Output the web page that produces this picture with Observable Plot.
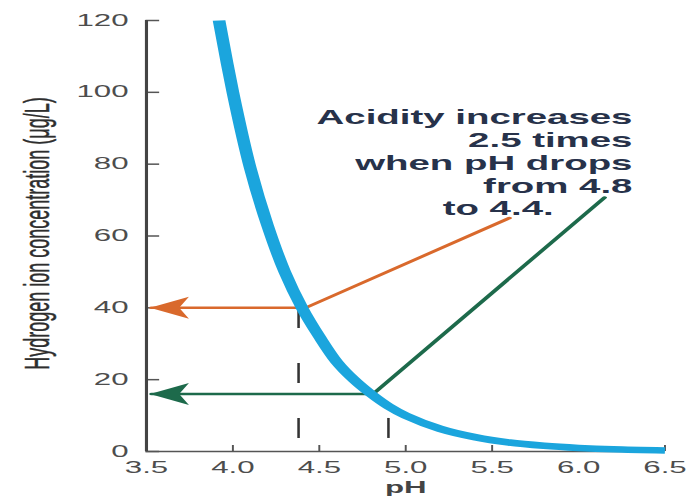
<!DOCTYPE html>
<html><head><meta charset="utf-8">
<script src="https://cdn.jsdelivr.net/npm/d3@7"></script>
<script src="https://cdn.jsdelivr.net/npm/@observablehq/plot@0.6"></script>
<style>html,body{margin:0;padding:0;background:#fff;overflow:hidden}#chart svg{display:block}</style>
</head><body><div id="chart"></div>
<script>
// ---- data ----
const pH   = [3.92, 4.0, 4.1, 4.2, 4.3, 4.4, 4.5, 4.6, 4.7, 4.8, 4.9, 5.0, 5.2, 5.4, 5.6, 5.8, 6.0, 6.2, 6.5];
const conc = [120, 100, 79, 63, 50, 40, 32, 25, 20, 16, 12.6, 10, 6.3, 4.0, 2.5, 1.6, 1.0, 0.6, 0.3];
const xTicks = [3.5, 4.0, 4.5, 5.0, 5.5, 6.0, 6.5];
const yTicks = [0, 20, 40, 60, 80, 100, 120];
const noteLines = ["Acidity increases", "2.5 times", "when pH drops", "from 4.8"];
const noteLast = "to 4.4.";
const orangePH = [5.6, 4.42, 3.53];
const orangeC  = [65, 40, 40];
const greenPH  = [6.15, 4.81, 3.53];
const greenC   = [70.7, 16, 16];
const dropPH   = [4.38, 4.9];
const dropTop  = [39.8, 9.2];
const dropBot  = [3.5, 3.5];
const yLabel = "Hydrogen ion concentration (μg/L)";
const xLabel = "pH";

// ---- layout ----
const f = 1.95, H = 496, W = 689 / f;
const curveRows = pH.map((x, i) => ({pH: x, c: conc[i]}));
const orangeRows = orangePH.map((x, i) => ({pH: x, c: orangeC[i]}));
const greenRows = greenPH.map((x, i) => ({pH: x, c: greenC[i]}));
const dropRows = dropPH.map((x, i) => ({pH: x, top: dropTop[i], bot: dropBot[i]}));
const heads = [
  {pH: orangePH[2] - 0.01, c: orangeC[2], col: "#d9692c"},
  {pH: greenPH[2] - 0.01, c: greenC[2], col: "#1d6a4b"}
];
const arrowHead = {
  draw(ctx, size) {
    const k = Math.sqrt(size / Math.PI) / 10;
    ctx.moveTo(0, 0);
    ctx.lineTo(20 * k, -11 * k);
    ctx.lineTo(15 * k, 0);
    ctx.lineTo(20 * k, 11 * k);
    ctx.closePath();
  }
};

const plot = Plot.plot({
  width: W, height: H,
  marginLeft: 145.5 / f, marginRight: 25 / f, marginTop: 20, marginBottom: 45,
  x: {domain: [3.5, 6.5]},
  y: {domain: [0, 120]},
  style: {fontFamily: "'Liberation Sans', Arial, sans-serif", fontSize: "16px", color: "#4d4d4d", background: "#fff"},
  marks: [
    Plot.axisX(xTicks, {tickSize: -6, tickPadding: 16.5, tickFormat: d3.format(".1f"), stroke: "#555", strokeWidth: 1, label: null}),
    Plot.axisY(yTicks, {tickSize: -7, tickPadding: 16.2, stroke: "#555", strokeWidth: 1.5, label: null}),
    Plot.ruleY([0], {stroke: "#555", strokeWidth: 1.5}),
    Plot.ruleX([3.5], {stroke: "#444", strokeWidth: 1.6}),
    Plot.ruleX(dropRows, {x: "pH", y1: "top", y2: "bot", stroke: "#333", strokeWidth: 1.3, strokeDasharray: "20,35"}),
    Plot.line(orangeRows, {x: "pH", y: "c", stroke: "#d9692c", strokeWidth: 2.5}),
    Plot.line(greenRows, {x: "pH", y: "c", stroke: "#1d6a4b", strokeWidth: 2.5}),
    Plot.dot(heads, {x: "pH", y: "c", r: 10, symbol: arrowHead, fill: "col"}),
    Plot.line(curveRows, {x: "pH", y: "c", stroke: "#1ba5dd", strokeWidth: 6.5, curve: "catmull-rom", strokeLinecap: "butt"}),
    Plot.text([noteLines.join("\n")], {x: 6.312, y: 83.67, text: d => d, textAnchor: "end", lineAnchor: "middle", lineHeight: 23 / 19.7, fontSize: 19.7, fontWeight: "bold", fill: "#27324a"}),
    Plot.text([noteLast], {x: 5.214, y: 67.66, text: d => d, textAnchor: "start", lineAnchor: "middle", fontSize: 19.7, fontWeight: "bold", fill: "#27324a"}),
    Plot.text([xLabel], {x: 5.0, frameAnchor: "bottom", dy: 36, text: d => d, lineAnchor: "middle", fontSize: 16, fontWeight: "bold", fill: "#444"}),
    Plot.text([yLabel], {frameAnchor: "left", dx: 19 - 145.5 / f, y: 60.7, text: d => d, rotate: -90, textAnchor: "middle", lineAnchor: "middle", fontSize: 18, fill: "#2e2e2e", stroke: "#2e2e2e", strokeWidth: 0.25})
  ]
});

plot.setAttribute("width", 689);
plot.setAttribute("height", H);
plot.setAttribute("viewBox", `0 0 ${W} ${H}`);
plot.setAttribute("preserveAspectRatio", "none");
plot.style.width = "689px";
plot.style.height = H + "px";
plot.style.maxWidth = "none";
document.getElementById("chart").appendChild(plot);
</script>
</body></html>
